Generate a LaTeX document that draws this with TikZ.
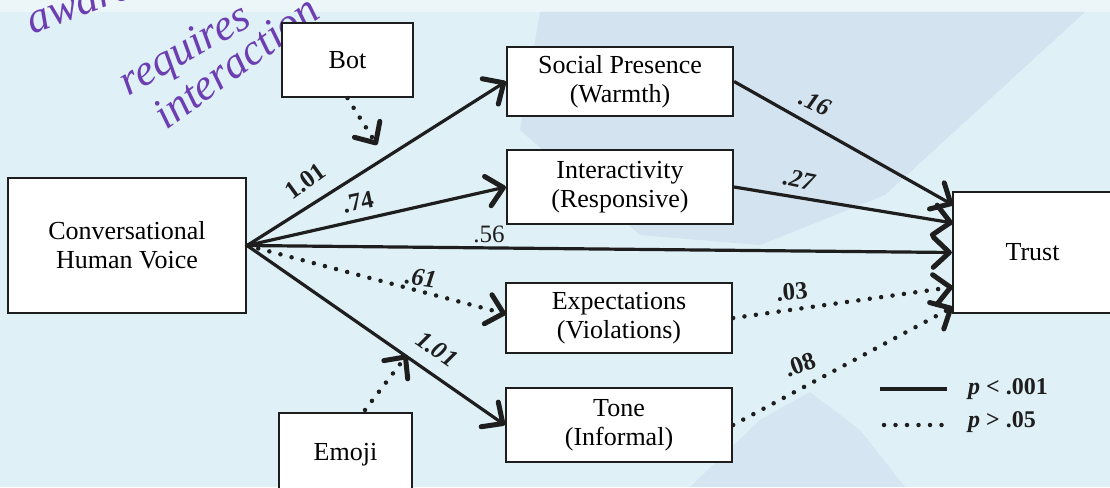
\documentclass[tikz,border=0pt]{standalone}
\usepackage{fontspec}
\setmainfont{Liberation Serif}
\usetikzlibrary{arrows.meta}

\definecolor{paper}{RGB}{223,241,247}
\definecolor{paperlight}{RGB}{236,246,249}
\definecolor{wash}{RGB}{211,227,239}
\definecolor{washlow}{RGB}{213,229,241}
\definecolor{ink}{RGB}{30,30,30}
\definecolor{pen}{RGB}{108,62,178}

\tikzset{
  box/.style={draw=ink, line width=2.2pt, fill=white, align=center,
    inner sep=0pt, font=\fontsize{26}{29}\selectfont},
  tip/.style={-{Straight Barb[length=16pt,width=30pt,line width=5pt,round]}},
  sig/.style={draw=ink, line width=3.2pt, tip},
  ns/.style={draw=ink, line width=4.5pt, line cap=round,
    dash pattern=on 0pt off 11.5pt, tip},
  coef/.style={inner sep=0pt, text=ink, font=\fontsize{25}{27}\selectfont\bfseries},
  coefi/.style={coef, font=\fontsize{25}{27}\selectfont\bfseries\itshape},
  plain/.style={inner sep=0pt, text=ink, font=\fontsize{25}{27}\selectfont},
  legend/.style={inner sep=0pt, anchor=west, text=ink,
    font=\fontsize{24}{27}\selectfont\bfseries},
  note/.style={inner sep=0pt, text=pen, font=\fontsize{44}{46}\selectfont\itshape}
}

\begin{document}
\begin{tikzpicture}[x=1pt,y=-1pt]
  \useasboundingbox (0,0) rectangle (1110,487);
  \clip (0,0) rectangle (1110,487);

  % scanned page background
  \fill[paper] (0,0) rectangle (1110,487);
  \fill[paperlight] (0,0) rectangle (1110,12);
  \fill[wash] (540,12) -- (1085,12) -- (885,195) -- (760,245) -- (640,235) -- (520,130) -- cycle;
  \fill[washlow] (690,487) -- (760,420) -- (810,392) -- (860,430) -- (905,487) -- cycle;

  % pen notes in the margin
  \node[note, rotate=20] (n1) at (80,6) {aware};
  \node[note, rotate=30] (n2) at (186,52) {requires};
  \node[note, rotate=36] (n3) at (236,62) {interaction};

  % constructs
  \node[box, minimum width=238pt, minimum height=135pt] (chv) at (127,245.5)
    {Conversational\\Human Voice};
  \node[box, minimum width=131pt, minimum height=74pt] (bot) at (347.5,60) {Bot};
  \node[box, minimum width=133pt, minimum height=84pt] (emoji) at (345.5,455) {Emoji};
  \node[box, minimum width=226pt, minimum height=69pt] (sp) at (620,81.5)
    {Social Presence\\(Warmth)};
  \node[box, minimum width=226pt, minimum height=74pt] (inter) at (620,187)
    {Interactivity\\(Responsive)};
  \node[box, minimum width=226pt, minimum height=70pt] (exp) at (619,318)
    {Expectations\\(Violations)};
  \node[box, minimum width=226pt, minimum height=74pt] (tone) at (619,425)
    {Tone\\(Informal)};
  \node[box, minimum width=159pt, minimum height=121pt] (trust) at (1032.5,252.5) {Trust};

  % arrow ends on the side of Trust and at the moderated paths
  \coordinate (t1) at (953,205);
  \coordinate (t2) at (953,223);
  \coordinate (t4) at (953,287);
  \coordinate (t5) at (953,307);
  \coordinate (botend) at (377,145);
  \coordinate (emofrom) at (365,410);
  \coordinate (emoend) at (407,355);
  \coordinate (expend) at (506,314);

  % paths
  \draw[sig] (chv.east) -- (sp.west);
  \draw[sig] (chv.east) -- (inter.west);
  \draw[sig] (chv.east) -- (trust.west);
  \draw[ns]  (chv.east) -- (expend);
  \draw[sig] (chv.east) -- (tone.west);
  \draw[sig] (sp.east) -- (t1);
  \draw[sig] (inter.east) -- (t2);
  \draw[ns]  (exp.east) -- (t4);
  \draw[ns]  (tone.east) -- (t5);
  \draw[ns]  (bot.south) -- (botend);
  \draw[ns]  (emofrom) -- (emoend);

  % coefficients
  \node[coef, rotate=36] (c1) at (305,181) {1.01};
  \node[coef, rotate=12] (c2) at (358,202) {.74};
  \node[plain] (c3) at (489,234) {.56};
  \node[coefi, rotate=-8] (c4) at (421,278) {.61};
  \node[coefi, rotate=-35] (c5) at (437,349) {1.01};
  \node[coefi, rotate=-25] (c6) at (815,103) {.16};
  \node[coefi, rotate=-12] (c7) at (799,180) {.27};
  \node[coef, rotate=5] (c8) at (792,292) {.03};
  \node[coef, rotate=20] (c9) at (800,365) {.08};

  % key
  \coordinate (k1a) at (880,389);
  \coordinate (k1b) at (947,389);
  \coordinate (k2a) at (884,425);
  \coordinate (k2b) at (947,425);
  \draw[draw=ink, line width=3.2pt] (k1a) -- (k1b);
  \draw[draw=ink, line width=4.5pt, line cap=round, dash pattern=on 0pt off 11.5pt] (k2a) -- (k2b);
  \node[legend] (l1) at (968,389) {\textit{p} < .001};
  \node[legend] (l2) at (968,422) {\textit{p} > .05};
\end{tikzpicture}
\end{document}
